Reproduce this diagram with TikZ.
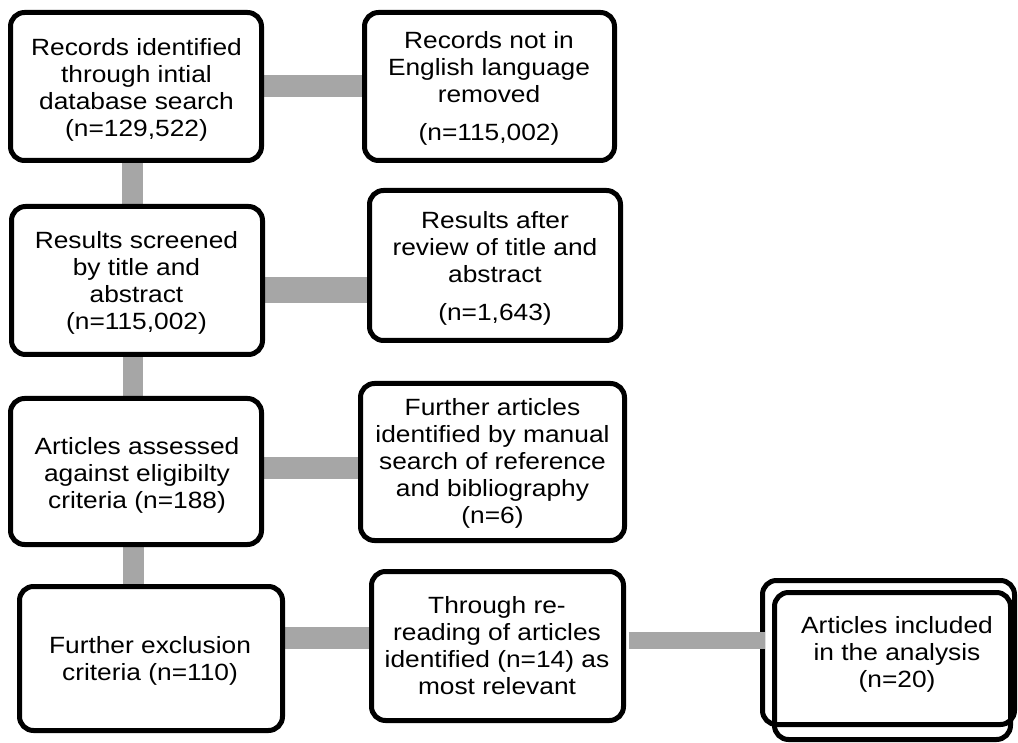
\documentclass[tikz,border=0pt]{standalone}
\usepackage{fontspec}
\setmainfont{Liberation Sans}[FakeStretch=1.12]
\usetikzlibrary{backgrounds}
\definecolor{barcol}{RGB}{166,166,166}
\begin{document}
\begin{tikzpicture}[x=1pt,y=-1pt,
  stagebox/.style={draw=black, line width=5pt, rounded corners=14pt,
    fill=white, inner sep=0pt, rectangle},
  outlinebox/.style={draw=black, line width=5pt, rounded corners=14pt,
    inner sep=0pt, rectangle},
  caption/.style={align=center, inner sep=0pt,
    font=\fontsize{23.5}{27}\selectfont},
  bar/.style={draw=barcol, line cap=butt}]
\useasboundingbox (0,0) rectangle (1018,743);

% stage boxes
\node[stagebox, minimum width=251pt, minimum height=148pt] (b1) at (136,86.5) {};
\node[stagebox, minimum width=250pt, minimum height=148pt] (b2) at (489.5,86.5) {};
\node[stagebox, minimum width=251pt, minimum height=148pt] (b3) at (137,280.5) {};
\node[stagebox, minimum width=251pt, minimum height=150pt] (b4) at (495,265.5) {};
\node[stagebox, minimum width=251pt, minimum height=146pt] (b5) at (136,471.5) {};
\node[stagebox, minimum width=264pt, minimum height=157pt] (b6) at (492.5,462) {};
\node[stagebox, minimum width=263pt, minimum height=144pt] (b7) at (151,658.5) {};
\node[stagebox, minimum width=252pt, minimum height=149pt] (b8) at (497.5,646) {};
\node[outlinebox, minimum width=252pt, minimum height=144pt] (b9a) at (888.5,652.5) {};
\node[outlinebox, minimum width=236pt, minimum height=147pt] (b9b) at (892.5,666) {};

% box texts
\node[caption] (t1) at (136.5,89.5) {Records identified\\through intial\\database search\\(n=129,522)};
\node[caption] (t2) at (489,88.5) {Records not in\\English language\\removed\\[11pt](n=115,002)};
\node[caption] (t3) at (136.5,282.5) {Results screened\\by title and\\abstract\\(n=115,002)};
\node[caption] (t4) at (495,268.5) {Results after\\review of title and\\abstract\\[11pt](n=1,643)};
\node[caption] (t5) at (137,475.5) {Articles assessed\\against eligibilty\\criteria (n=188)};
\node[caption] (t6) at (492.5,463) {Further articles\\identified by manual\\search of reference\\and bibliography\\(n=6)};
\node[caption] (t7) at (150,660.5) {Further exclusion\\criteria (n=110)};
\node[caption] (t8) at (497,645.5) {Through re-\\reading of articles\\identified (n=14) as\\most relevant};
\node[caption] (t9) at (897,654) {Articles included\\in the analysis\\(n=20)};

% grey connecting bars behind the boxes
\begin{pgfonlayer}{background}
\draw[bar, line width=22pt] (b1.east |- 0,86) -- (b2.west |- 0,86);
\draw[bar, line width=21pt] (b1.south -| 132.5,0) -- (b3.north -| 132.5,0);
\draw[bar, line width=26pt] (b3.east |- 0,290) -- (b4.west |- 0,290);
\draw[bar, line width=20pt] (b3.south -| 133,0) -- (b5.north -| 133,0);
\draw[bar, line width=22pt] (b5.east |- 0,468) -- (b6.west |- 0,468);
\draw[bar, line width=21pt] (b5.south -| 133.5,0) -- (b7.north -| 133.5,0);
\draw[bar, line width=22pt] (b7.east |- 0,638) -- (b8.west |- 0,638);
\end{pgfonlayer}

% last bar runs over the left edge of the outer final box
\draw[bar, line width=17pt] ([xshift=2.5pt]b8.east |- 0,640) -- ([xshift=4.5pt]b9a.west |- 0,640);
\end{tikzpicture}
\end{document}
